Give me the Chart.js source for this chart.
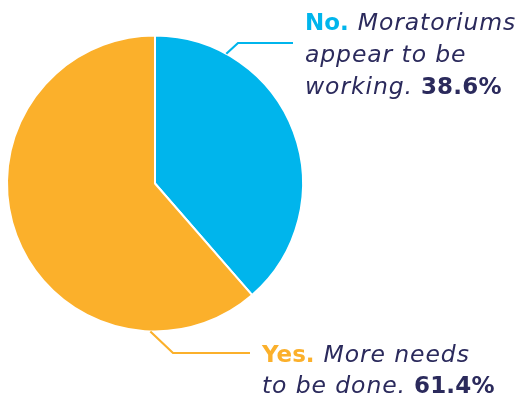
<!DOCTYPE html>
<html>
<head>
<meta charset="utf-8">
<script src="https://cdn.jsdelivr.net/npm/chart.js@4"></script>
<style>
  html, body { margin: 0; padding: 0; background: #ffffff; }
  #wrap { width: 525px; height: 398px; position: relative; }
</style>
</head>
<body>
<div id="wrap"><canvas id="c" width="525" height="398"></canvas></div>
<script>
// Survey answers and their shares (percent)
const categories = ['No.', 'Yes.'];
const answerText = [
  ['Moratoriums', 'appear to be', 'working.'],
  ['More needs', 'to be done.']
];
const shares = [38.6, 61.4];
const sliceColors = ['#00B5EC', '#FBB02B'];
const textNavy = '#2B2A5C';

const FONT = '"DejaVu Sans", "Open Sans", sans-serif';

// Callout: leader line from the slice edge plus a wrapped label
const callouts = {
  id: 'callouts',
  afterDatasetsDraw(chart) {
    const ctx = chart.ctx;
    const meta = chart.getDatasetMeta(0);
    const cfg = [
      { angleFrac: 0.08, elbow: [238, 43], end: [293, 43], textX: 305, baselines: [30, 62, 94] },
      { angleFrac: 0.505, elbow: [173, 353], end: [250, 353], textX: 262, baselines: [362, 393] }
    ];
    meta.data.forEach((arc, i) => {
      const c = cfg[i];
      const a = -Math.PI / 2 + c.angleFrac * 2 * Math.PI;
      const sx = arc.x + Math.cos(a) * arc.outerRadius;
      const sy = arc.y + Math.sin(a) * arc.outerRadius;
      ctx.save();
      ctx.strokeStyle = sliceColors[i];
      ctx.lineWidth = 2.2;
      ctx.beginPath();
      ctx.moveTo(sx, sy);
      ctx.lineTo(c.elbow[0], c.elbow[1]);
      ctx.lineTo(c.end[0], c.end[1]);
      ctx.stroke();

      // label lines
      const lines = answerText[i];
      const pct = shares[i].toFixed(1) + '%';
      ctx.textBaseline = 'alphabetic';
      ctx.textAlign = 'left';
      lines.forEach((line, li) => {
        let x = c.textX;
        const y = c.baselines[li];
        if (li === 0) {
          ctx.font = '700 23px ' + FONT;
          ctx.letterSpacing = '0px';
          ctx.fillStyle = sliceColors[i];
          ctx.fillText(categories[i], x, y);
          x += ctx.measureText(categories[i]).width + 9;
        }
        ctx.font = 'italic 400 23.5px ' + FONT;
        ctx.letterSpacing = '0.9px';
        ctx.fillStyle = textNavy;
        ctx.fillText(line, x, y);
        x += ctx.measureText(line).width + 8;
        if (li === lines.length - 1) {
          ctx.font = '700 23px ' + FONT;
          ctx.letterSpacing = '0.2px';
          ctx.fillStyle = textNavy;
          ctx.fillText(pct, x, y);
        }
      });
      ctx.restore();
    });
  }
};

new Chart(document.getElementById('c'), {
  type: 'pie',
  data: {
    labels: categories,
    datasets: [{
      data: shares,
      backgroundColor: sliceColors,
      borderColor: '#ffffff',
      borderWidth: 2
    }]
  },
  options: {
    responsive: false,
    animation: false,
    layout: { padding: { left: 6, top: 34, bottom: 65, right: 221 } },
    plugins: {
      legend: { display: false },
      tooltip: { enabled: false }
    }
  },
  plugins: [callouts]
});
</script>
</body>
</html>
